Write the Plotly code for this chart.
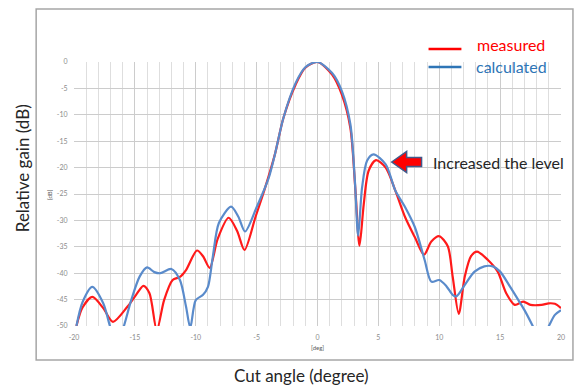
import plotly.graph_objects as go

# ---------------- data ----------------
measured_x = [-19.8, -19.3, -18.5, -17.6, -16.8, -15.6, -14.9, -14.3, -13.8, -13.2, -12.6, -11.9,
              -11.3, -10.8, -9.9, -9.4, -8.85, -8.2, -7.3, -6.6, -6.0, -5.1, -4.3, -3.5, -2.8,
              -1.8, -1.0, 0.0, 1.2, 2.0, 2.7, 3.1, 3.45, 3.8, 4.2, 4.8, 5.6, 6.4, 7.2, 8.0,
              8.75, 9.35, 10.0, 10.7, 11.1, 11.6, 12.1, 12.6, 13.1, 14.0, 14.8, 15.5, 16.2,
              16.9, 17.5, 18.4, 19.0, 19.5, 20.0]
measured_y = [-50.0, -46.5, -44.5, -46.6, -49.2, -46.3, -44.1, -42.4, -43.8, -50.8, -45.1, -41.3,
              -40.7, -39.4, -35.7, -36.8, -39.0, -33.5, -29.5, -32.0, -35.6, -29.4, -23.8, -17.5,
              -10.6, -4.3, -1.1, 0.0, -2.4, -6.2, -12.5, -23.8, -34.8, -26.9, -20.6, -18.6,
              -20.0, -24.4, -29.4, -33.2, -36.5, -34.0, -33.0, -34.9, -40.6, -47.7, -40.6,
              -36.8, -35.9, -37.5, -39.7, -43.8, -46.0, -45.4, -46.0, -46.0, -45.7, -45.8, -46.6]

calculated_x = [-19.8, -19.3, -18.5, -17.6, -17.05, -16.5, -15.9, -15.3, -14.6, -14.0, -13.4,
                -12.9, -12.0, -11.3, -10.8, -10.45, -10.0, -9.4, -9.0, -8.6, -8.1, -7.1, -6.5,
                -5.95, -5.0, -4.0, -3.5, -2.8, -1.8, -1.0, 0.0, 1.2, 2.0, 2.7, 3.07, 3.34, 3.66,
                4.07, 4.6, 5.6, 6.4, 7.2, 8.0, 8.8, 9.35, 10.0, 10.6, 11.1, 11.4, 12.1, 12.9,
                13.7, 14.4, 15.0, 15.8, 16.5, 17.0, 17.7, 18.3, 19.0, 19.5, 20.0]
calculated_y = [-50.0, -45.5, -42.6, -45.7, -50.0, -54.0, -50.0, -45.1, -40.6, -38.9, -39.8,
                -40.0, -39.2, -41.3, -46.3, -50.3, -45.1, -44.1, -42.6, -36.9, -30.5, -27.4,
                -29.3, -32.1, -27.5, -21.9, -17.5, -10.6, -4.0, -1.0, 0.0, -2.1, -5.5, -11.8,
                -22.5, -32.9, -23.8, -18.7, -17.5, -19.4, -24.4, -27.5, -31.3, -37.5, -41.6,
                -41.3, -42.5, -44.1, -44.4, -42.2, -39.7, -38.7, -38.7, -39.7, -42.5, -45.1,
                -47.0, -50.1, -53.0, -50.0, -47.9, -47.0]

x_ticks = [-20, -15, -10, -5, 0, 5, 10, 15, 20]
y_ticks = [0, -5, -10, -15, -20, -25, -30, -35, -40, -45, -50]

series_names = ["measured", "calculated"]
RED = "#FF1A1A"
BLUE = "#5A8BCB"

# ---------------- layout helpers (pixel -> paper) ----------------
W, H = 577, 385
L, R, T, B = 74, 563, 62, 326


def px(x):
    return (x - L) / (R - L)


def py(y):
    return (B - y) / (B - T)


FONT = "Lato, 'Open Sans', sans-serif"

fig = go.Figure()
fig.add_trace(go.Scatter(x=measured_x, y=measured_y, mode="lines", name=series_names[0],
                         line=dict(color=RED, width=2.2, shape="spline", smoothing=0.8)))
fig.add_trace(go.Scatter(x=calculated_x, y=calculated_y, mode="lines", name=series_names[1],
                         line=dict(color=BLUE, width=2.2, shape="spline", smoothing=0.8)))

shapes = []
# outer frame
shapes.append(dict(type="rect", xref="paper", yref="paper", x0=px(36), x1=px(575), y0=py(360), y1=py(9),
                   line=dict(color="#A6A6A6", width=1.5), fillcolor="rgba(0,0,0,0)", layer="above"))
# legend white box covering the grid
shapes.append(dict(type="rect", xref="paper", yref="paper", x0=px(415), x1=px(561), y0=py(85), y1=py(50),
                   line=dict(width=0), fillcolor="white", layer="between"))
# legend line samples
shapes.append(dict(type="line", xref="paper", yref="paper", x0=px(430), x1=px(463), y0=py(49), y1=py(49),
                   line=dict(color="#FF0000", width=2.5)))
shapes.append(dict(type="line", xref="paper", yref="paper", x0=px(430), x1=px(463), y0=py(67), y1=py(67),
                   line=dict(color="#2E75B6", width=2.5)))
# block arrow
pts = [(393, 162), (408, 151.5), (408, 157.5), (423, 157.5), (423, 166.5), (408, 166.5), (408, 172.5)]
path = "M " + " L ".join(f"{px(a):.5f},{py(b):.5f}" for a, b in pts) + " Z"
shapes.append(dict(type="path", xref="paper", yref="paper", path=path,
                   fillcolor="#FF0000", line=dict(color="#41598A", width=1.5), layer="above"))


def note(text, x, y, size, color, angle=0):
    return dict(text=text, x=px(x), y=py(y), xref="paper", yref="paper", showarrow=False,
                xanchor="center", yanchor="middle", textangle=angle,
                font=dict(family=FONT, size=size, color=color))


annotations = [
    note("measured", 513, 44, 16, "#FF0000"),
    note("calculated", 513, 66, 16, "#2E75B6"),
    note("Increased the level", 500, 162, 16, "#262626"),
    note("Relative gain (dB)", 22, 168, 17, "#262626", -90),
    note("Cut angle (degree)", 302, 375, 17, "#262626"),
    note("[deg]", 319, 347, 6, "#595959"),
    note("[dB]", 49, 195, 6, "#595959", -90),
]

fig.update_layout(
    width=W, height=H,
    margin=dict(l=L, r=W - R, t=T, b=H - B),
    paper_bgcolor="white", plot_bgcolor="white",
    showlegend=False,
    shapes=shapes,
    annotations=annotations,
    xaxis=dict(range=[-20, 20], tickvals=x_ticks, ticktext=[str(v) for v in x_ticks],
               showgrid=True, gridcolor="#CCCCCC", gridwidth=1.3, zeroline=False,
               minor=dict(dtick=1, showgrid=True, gridcolor="#DEDEDE", gridwidth=1.1),
               ticks="outside", ticklen=5, tickcolor="rgba(0,0,0,0)",
               tickfont=dict(family=FONT, size=7, color="#8C8C8C"), showline=False),
    yaxis=dict(range=[-50, 0], tickvals=y_ticks, ticktext=[str(v) for v in y_ticks],
               showgrid=True, gridcolor="#CCCCCC", gridwidth=1.3, zeroline=False,
               ticks="outside", ticklen=4, tickcolor="rgba(0,0,0,0)",
               tickfont=dict(family=FONT, size=7, color="#8C8C8C"), showline=False),
)

fig.write_html("out.html")
